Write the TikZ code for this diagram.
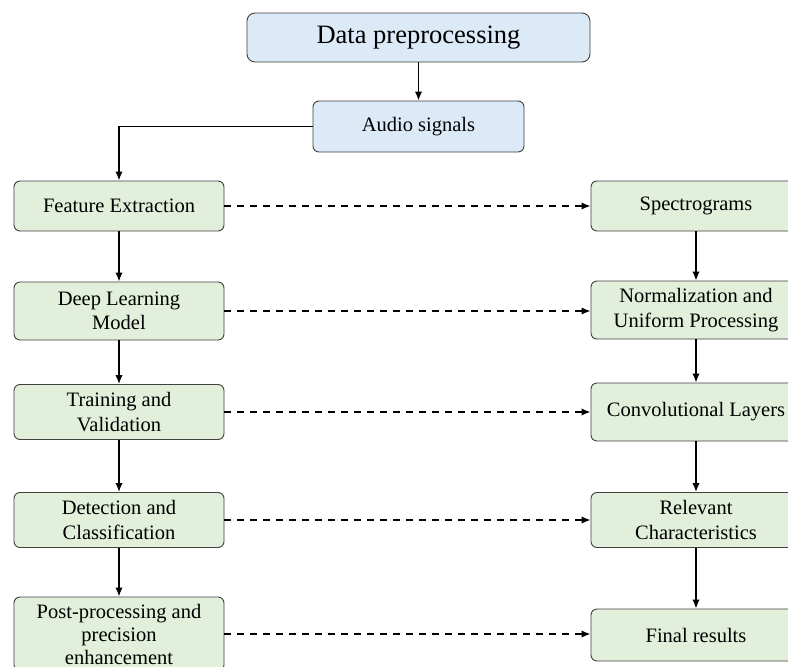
\documentclass[tikz,border=0pt]{standalone}
\usepackage{fontspec}
\setmainfont{Liberation Serif}
\usetikzlibrary{arrows.meta}
\definecolor{blueA}{HTML}{DCE9F6}
\definecolor{greenA}{HTML}{E2EFDA}
\definecolor{edgeA}{HTML}{404040}
\begin{document}
\begin{tikzpicture}[x=1pt,y=-1pt,
  box/.style={draw=edgeA, line width=0.9pt, rounded corners=6pt, align=center,
    font=\fontsize{20.5}{24.5}\selectfont, inner sep=0pt},
  bluebox/.style={box, fill=blueA},
  greenbox/.style={box, fill=greenA, minimum width=210pt},
  arr/.style={-{Latex[length=9pt,width=7.5pt]}, line width=1.6pt},
  darr/.style={arr, dash pattern=on 7pt off 6pt}]
\useasboundingbox (0,0) rectangle (788,667);
\clip (0,0) rectangle (788,667);
\fill[white] (0,0) rectangle (788,667);
% top
\node[bluebox, rounded corners=8pt, minimum width=343pt, minimum height=49pt,
  font=\fontsize{26.5}{30}\selectfont] (dp) at (418.5,37.5) {Data preprocessing};
\node[bluebox, minimum width=211pt, minimum height=51pt] (audio) at (418.5,126.5) {Audio signals};
% left column
\node[greenbox, minimum height=50pt] (fe) at (119,206) {Feature Extraction};
\node[greenbox, minimum height=58pt] (dl) at (119,311) {Deep Learning\\Model};
\node[greenbox, minimum height=55pt] (tv) at (119,412) {Training and\\Validation};
\node[greenbox, minimum height=55pt] (dc) at (119,520) {Detection and\\Classification};
\node[greenbox, minimum height=74pt, font=\fontsize{20.5}{23}\selectfont] (pp) at (119,634) {Post-processing and\\precision\\enhancement};
% right column
\node[greenbox, minimum height=50pt] (sp) at (696,206) {Spectrograms};
\node[greenbox, minimum height=58pt] (nu) at (696,310) {Normalization and\\Uniform Processing};
\node[greenbox, minimum height=58pt] (cl) at (696,412) {Convolutional Layers};
\node[greenbox, minimum height=55pt] (rc) at (696,520) {Relevant\\Characteristics};
\node[greenbox, minimum height=52pt] (fr) at (696,635) {Final results};
% connectors
\draw[arr] (dp) -- (audio);
\draw[arr] (audio.west) -| (fe.north);
\draw[arr] (fe) -- (dl);
\draw[arr] (dl) -- (tv);
\draw[arr] (tv) -- (dc);
\draw[arr] (dc) -- (pp);
\draw[arr] (sp) -- (nu);
\draw[arr] (nu) -- (cl);
\draw[arr] (cl) -- (rc);
\draw[arr] (rc) -- (fr);
\draw[darr] (fe.east) -- (fe.east -| sp.west);
\draw[darr] (dl.east) -- (dl.east -| nu.west);
\draw[darr] (tv.east) -- (tv.east -| cl.west);
\draw[darr] (dc.east) -- (dc.east -| rc.west);
\draw[darr] (pp.east) -- (pp.east -| fr.west);
\end{tikzpicture}
\end{document}
